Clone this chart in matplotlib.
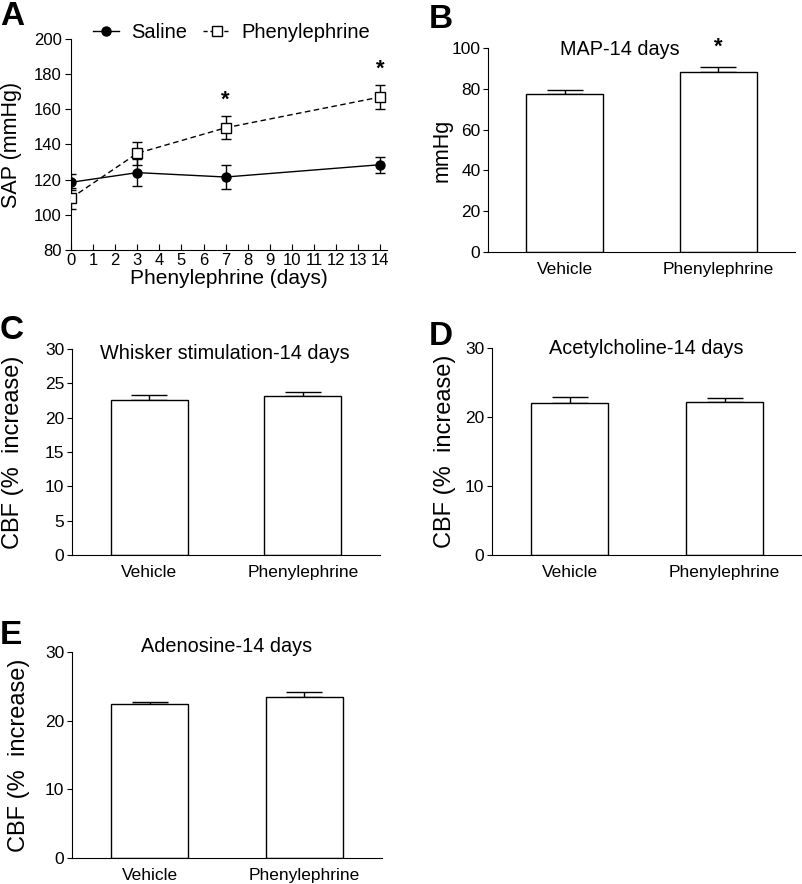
import numpy as np
import matplotlib
matplotlib.use('Agg')
import matplotlib.pyplot as plt
from matplotlib.lines import Line2D

plt.rcParams['font.family'] = ['Liberation Sans', 'DejaVu Sans']

# Panel A data: systolic arterial pressure over time
days = [0, 3, 7, 14]
saline_mean = [118.5, 124, 121.5, 128.5]
saline_err = [4.5, 7.5, 7, 4.5]
phen_mean = [109.5, 135, 149.5, 167]
phen_err = [6, 6.5, 6.5, 7]
sig_days = [7, 14]

# Bar panels
groups = ['Vehicle', 'Phenylephrine']
map_mean = [77.4, 88.4]
map_err = [1.9, 2.3]
whisker_mean = [22.5, 23.1]
whisker_err = [0.8, 0.7]
ach_mean = [22.0, 22.2]
ach_err = [0.9, 0.5]
ado_mean = [22.4, 23.4]
ado_err = [0.3, 0.8]

fig = plt.figure(figsize=(8.02, 8.84), dpi=100)

# ---- Panel A ----
dash = (0, (4, 2.5))
axA = fig.add_axes([0.0885, 0.7172, 0.394, 0.2387])
axA.errorbar(days, saline_mean, yerr=saline_err, color='black', lw=1.0,
             marker='o', ms=6.5, mfc='black', capsize=3.5, elinewidth=1.0, zorder=3)
axA.errorbar(days, phen_mean, yerr=phen_err, color='black', lw=1.0, ls=dash,
             marker='s', ms=7, mfc='white', capsize=3.5, elinewidth=1.0, zorder=4)
for d in sig_days:
    i = days.index(d)
    axA.text(d, phen_mean[i] + phen_err[i] + 9, '*', ha='center', va='center',
             fontsize=16, fontweight='bold')
axA.set_xlim(0, 14.3)
axA.set_ylim(80, 200)
axA.set_xticks(range(0, 15))
axA.set_yticks(range(80, 201, 20))
axA.spines['top'].set_visible(False)
axA.spines['right'].set_visible(False)
axA.tick_params(axis='x', direction='in', length=4, pad=2, labelsize=12)
axA.tick_params(axis='y', direction='out', length=4, pad=2.5, labelsize=12)
axA.set_xlabel('Phenylephrine (days)', fontsize=15, labelpad=1)
axA.set_ylabel('SAP (mmHg)', fontsize=15.5)
axA.yaxis.set_label_coords(-0.155, 0.5)
handles = [Line2D([], [], color='black', lw=1.0, marker='o', ms=6.5, mfc='black'),
           Line2D([], [], color='black', lw=1.0, ls=(0, (3, 2)), marker='s', ms=7, mfc='white')]
axA.legend(handles, ['Saline', 'Phenylephrine'], loc='center left',
           bbox_to_anchor=(0.07, 1.03), ncol=2, frameon=False,
           fontsize=14.5, handlelength=1.3, columnspacing=0.8,
           handletextpad=0.6, borderaxespad=0, borderpad=0)


def bar_panel(rect, means, errs, ymax, step, title, title_xy, ylabel, label_x, star=False):
    ax = fig.add_axes(rect)
    x = np.arange(len(groups))
    ax.bar(x, means, width=0.5, color='white', edgecolor='black', lw=1.0, zorder=2)
    ax.errorbar(x, means, yerr=[np.zeros(len(errs)), errs], fmt='none',
                ecolor='black', elinewidth=1.0, capsize=13, capthick=1.0, zorder=1)
    ax.set_xlim(-0.5, 1.5)
    ax.set_ylim(0, ymax)
    ax.set_yticks(np.arange(0, ymax + 0.1, step))
    ax.set_xticks(x)
    ax.set_xticklabels(groups)
    ax.spines['top'].set_visible(False)
    ax.spines['right'].set_visible(False)
    ax.tick_params(axis='x', length=0, pad=7, labelsize=12.5)
    ax.tick_params(axis='y', direction='out', length=3.5, pad=2, labelsize=12.5)
    ax.text(title_xy[0], title_xy[1], title, transform=ax.transAxes,
            ha='center', va='center', fontsize=14.3)
    ax.set_ylabel(ylabel, fontsize=17 if 'CBF' in ylabel else 15.5)
    ax.yaxis.set_label_coords(label_x, 0.5)
    if star:
        ax.text(1, means[1] + errs[1] + 9.5, '*', ha='center', va='center',
                fontsize=16, fontweight='bold')
    return ax


cbf_label = 'CBF (%  increase)'
bar_panel([0.6085, 0.7149, 0.3828, 0.2308], map_mean, map_err, 100, 20,
          'MAP-14 days', (0.43, 0.995), 'mmHg', -0.117, star=True)
bar_panel([0.0898, 0.3722, 0.384, 0.233], whisker_mean, whisker_err, 30, 5,
          'Whisker stimulation-14 days', (0.497, 0.98), cbf_label, -0.156)
bar_panel([0.6135, 0.3722, 0.3865, 0.2341], ach_mean, ach_err, 30, 10,
          'Acetylcholine-14 days', (0.497, 1.0), cbf_label, -0.116)
bar_panel([0.0898, 0.0294, 0.3865, 0.233], ado_mean, ado_err, 30, 10,
          'Adenosine-14 days', (0.5, 1.025), cbf_label, -0.135)

# Panel letters
for letter, (px, py) in {'A': (0, 1), 'B': (429, 4), 'C': (0, 315),
                         'D': (429, 321), 'E': (0, 620)}.items():
    fig.text(px / 802, 1 - py / 884, letter, ha='left', va='top',
             fontsize=24, fontweight='bold')

fig.savefig('out.png', dpi=100)
